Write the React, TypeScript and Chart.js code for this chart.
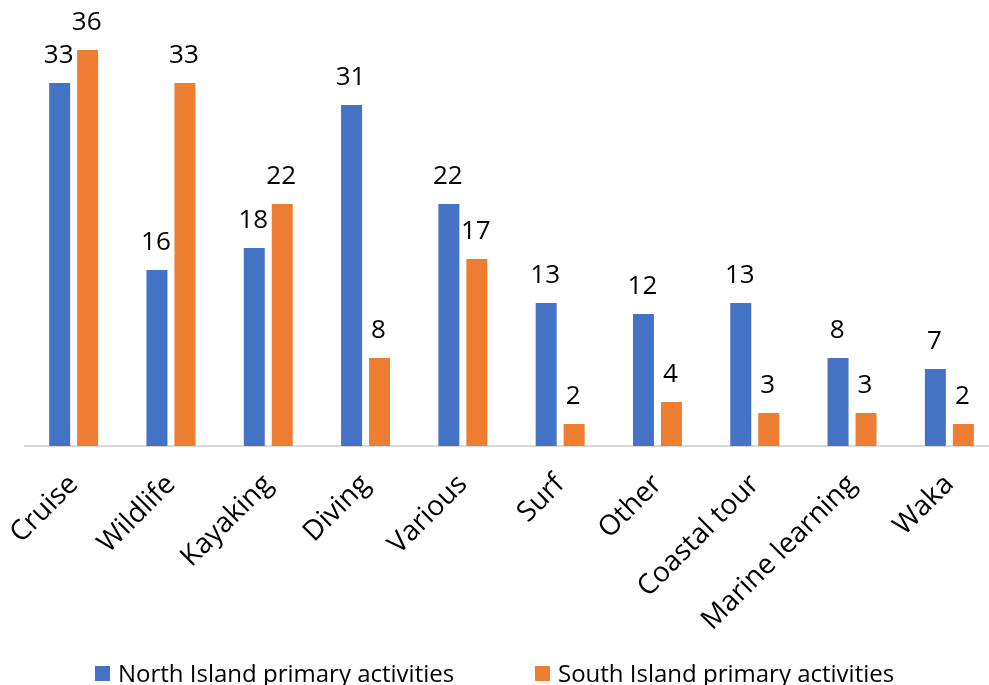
import React, { useEffect, useRef } from "react";
import { Chart, registerables } from "chart.js";

Chart.register(...registerables);

const categories = [
  "Cruise",
  "Wildlife",
  "Kayaking",
  "Diving",
  "Various",
  "Surf",
  "Other",
  "Coastal tour",
  "Marine learning",
  "Waka",
];
const northValues = [33, 16, 18, 31, 22, 13, 12, 13, 8, 7];
const southValues = [36, 33, 22, 8, 17, 2, 4, 3, 3, 2];
const seriesNames = ["North Island primary activities", "South Island primary activities"];
const seriesColors = ["#4472C4", "#ED7D31"];

const FONT = "'Open Sans', sans-serif";

const valueLabels = {
  id: "valueLabels",
  afterDatasetsDraw(chart: any) {
    const ctx = chart.ctx;
    ctx.save();
    ctx.font = `26px ${FONT}`;
    ctx.fillStyle = "#000000";
    ctx.textAlign = "center";
    ctx.textBaseline = "alphabetic";
    chart.data.datasets.forEach((ds: any, i: number) => {
      const meta = chart.getDatasetMeta(i);
      meta.data.forEach((bar: any, j: number) => {
        ctx.fillText(String(ds.data[j]), bar.x - 1, bar.y - 20);
      });
    });
    ctx.restore();
  },
};

export default function App() {
  const canvasRef = useRef<HTMLCanvasElement | null>(null);

  useEffect(() => {
    if (!canvasRef.current) return;
    const chart = new Chart(canvasRef.current, {
      type: "bar",
      data: {
        labels: categories,
        datasets: [
          {
            label: seriesNames[0],
            data: northValues,
            backgroundColor: seriesColors[0],
            categoryPercentage: 0.575,
            barPercentage: 0.75,
          },
          {
            label: seriesNames[1],
            data: southValues,
            backgroundColor: seriesColors[1],
            categoryPercentage: 0.575,
            barPercentage: 0.75,
          },
        ],
      },
      options: {
        responsive: false,
        animation: false,
        layout: { padding: { top: 6, left: 25, right: 2, bottom: 0 } },
        plugins: {
          legend: { display: false },
          tooltip: { enabled: false },
        },
        scales: {
          x: {
            offset: true,
            grid: { display: false, drawTicks: false },
            border: { display: true, color: "#D9D9D9", width: 2 },
            ticks: {
              color: "#000000",
              font: { family: FONT, size: 28 },
              minRotation: 45,
              maxRotation: 45,
              padding: 22,
              autoSkip: false,
            },
            afterFit(scale: any) {
              scale.height = 239;
              scale.paddingLeft = 0;
              scale.paddingRight = 0;
            },
          },
          y: {
            display: false,
            min: 0,
            max: 40,
          },
        },
      },
      plugins: [valueLabels],
    });
    return () => chart.destroy();
  }, []);

  const legendItem = (i: number, left: number) => (
    <div
      key={i}
      style={{
        position: "absolute",
        left,
        top: 658,
        height: 30,
        display: "flex",
        alignItems: "center",
        whiteSpace: "nowrap",
      }}
    >
      <span
        style={{
          display: "inline-block",
          width: 15,
          height: 15,
          background: seriesColors[i],
          marginRight: 8,
        }}
      />
      <span style={{ fontFamily: FONT, fontSize: 24, color: "#000", lineHeight: "30px" }}>
        {seriesNames[i]}
      </span>
    </div>
  );

  return (
    <div
      style={{
        position: "fixed",
        left: 0,
        top: 0,
        width: 989,
        height: 685,
        overflow: "hidden",
        background: "#ffffff",
      }}
    >
      <canvas ref={canvasRef} width={1000} height={685} style={{ display: "block" }} />
      {legendItem(0, 95)}
      {legendItem(1, 535)}
    </div>
  );
}
